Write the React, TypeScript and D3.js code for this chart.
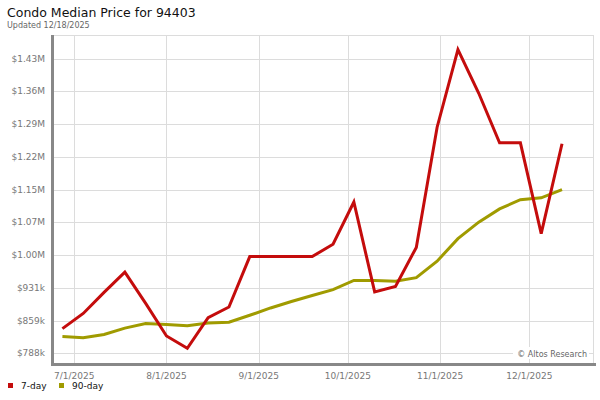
import React from "react";
import * as d3 from "d3";

const dates = [
  "2025-06-27", "2025-07-04", "2025-07-11", "2025-07-18", "2025-07-25",
  "2025-08-01", "2025-08-08", "2025-08-15", "2025-08-22", "2025-08-29",
  "2025-09-05", "2025-09-12", "2025-09-19", "2025-09-26", "2025-10-03",
  "2025-10-10", "2025-10-17", "2025-10-24", "2025-10-31", "2025-11-07",
  "2025-11-14", "2025-11-21", "2025-11-28", "2025-12-05", "2025-12-12",
];
const sevenDay = [
  842, 875, 921, 965, 897, 826, 799, 866, 889, 999, 999, 999, 999, 1026, 1118,
  922, 934, 1019, 1281, 1450, 1355, 1247, 1247, 1049, 1245,
];
const ninetyDay = [
  825, 822, 829, 843, 853, 851, 848, 854, 856, 871, 887, 901, 914, 927, 947,
  947, 945, 953, 989, 1038, 1074, 1103, 1123, 1127, 1145,
];
const yTickValues = [788, 859.4, 930.8, 1002.2, 1073.6, 1145, 1216.4, 1287.8, 1359.2, 1430.6];
const yTickLabels = ["$788k", "$859k", "$931k", "$1.00M", "$1.07M", "$1.15M", "$1.22M", "$1.29M", "$1.36M", "$1.43M"];
const xTickDates = ["2025-07-01", "2025-08-01", "2025-09-01", "2025-10-01", "2025-11-01", "2025-12-01"];
const xTickLabels = ["7/1/2025", "8/1/2025", "9/1/2025", "10/1/2025", "11/1/2025", "12/1/2025"];

const parse = (s: string) => {
  const [y, m, d] = s.split("-").map(Number);
  return new Date(y, m - 1, d);
};

export default function App() {
  const left = 52, right = 593, top = 35, bottom = 363;
  const x = d3.scaleTime()
    .domain([new Date(2025, 5, 23, 12), new Date(2025, 11, 22, 10)])
    .range([left, right]);
  const y = d3.scaleLinear().domain([767, 1482]).range([bottom, top]);
  const font = "'DejaVu Sans', sans-serif";
  const red = "#c40c0c";
  const olive = "#a09b00";

  const line = d3.line<[Date, number]>().x((d) => x(d[0])).y((d) => y(d[1]));
  const redPts: [Date, number][] = dates.map((d, i) => [parse(d), sevenDay[i]]);
  const olivePts: [Date, number][] = dates.map((d, i) => [parse(d), ninetyDay[i]]);

  return (
    <svg width={600} height={400} style={{ position: "absolute", left: 0, top: 0, fontFamily: font }}>
      <rect x={0} y={0} width={600} height={400} fill="#fff" />
      <text x={7} y={17} fontSize={12.5} fill="#111">Condo Median Price for 94403</text>
      <text x={7} y={28} fontSize={8} fill="#666">Updated 12/18/2025</text>
      {/* grid */}
      {yTickValues.map((v, i) => (
        <line key={"gy" + i} x1={left} x2={right} y1={Math.round(y(v)) + 0.5} y2={Math.round(y(v)) + 0.5} stroke="#dcdcdc" />
      ))}
      <line x1={left} x2={right} y1={top + 0.5} y2={top + 0.5} stroke="#dcdcdc" />
      <line x1={right + 0.5} x2={right + 0.5} y1={top} y2={bottom} stroke="#dcdcdc" />
      {xTickDates.map((d, i) => (
        <line key={"gx" + i} x1={Math.round(x(parse(d))) + 0.5} x2={Math.round(x(parse(d))) + 0.5} y1={top} y2={bottom} stroke="#dcdcdc" />
      ))}
      {/* watermark */}
      <rect x={513} y={347} width={76} height={12} fill="#fff" />
      <text x={587} y={357} fontSize={8} fill="#666" textAnchor="end">© Altos Research</text>
      {/* lines */}
      <path d={line(olivePts) || ""} fill="none" stroke={olive} strokeWidth={3} strokeLinejoin="miter" />
      <path d={line(redPts) || ""} fill="none" stroke={red} strokeWidth={3} strokeLinejoin="miter" />
      {/* axes */}
      <rect x={51} y={top} width={3} height={bottom - top + 3} fill="#888" />
      <rect x={51} y={bottom} width={545} height={3} fill="#888" />
      {yTickValues.map((v, i) => (
        <text key={"yl" + i} x={45} y={y(v) + 3} fontSize={9} fill="#777" textAnchor="end">{yTickLabels[i]}</text>
      ))}
      {xTickDates.map((d, i) => (
        <text key={"xl" + i} x={x(parse(d))} y={379} fontSize={9} fill="#777" textAnchor="middle">{xTickLabels[i]}</text>
      ))}
      {/* legend */}
      <rect x={8} y={383} width={5} height={5} fill={red} />
      <text x={21} y={389} fontSize={9} fill="#111">7-day</text>
      <rect x={59} y={383} width={5} height={5} fill={olive} />
      <text x={72} y={389} fontSize={9} fill="#111">90-day</text>
    </svg>
  );
}
